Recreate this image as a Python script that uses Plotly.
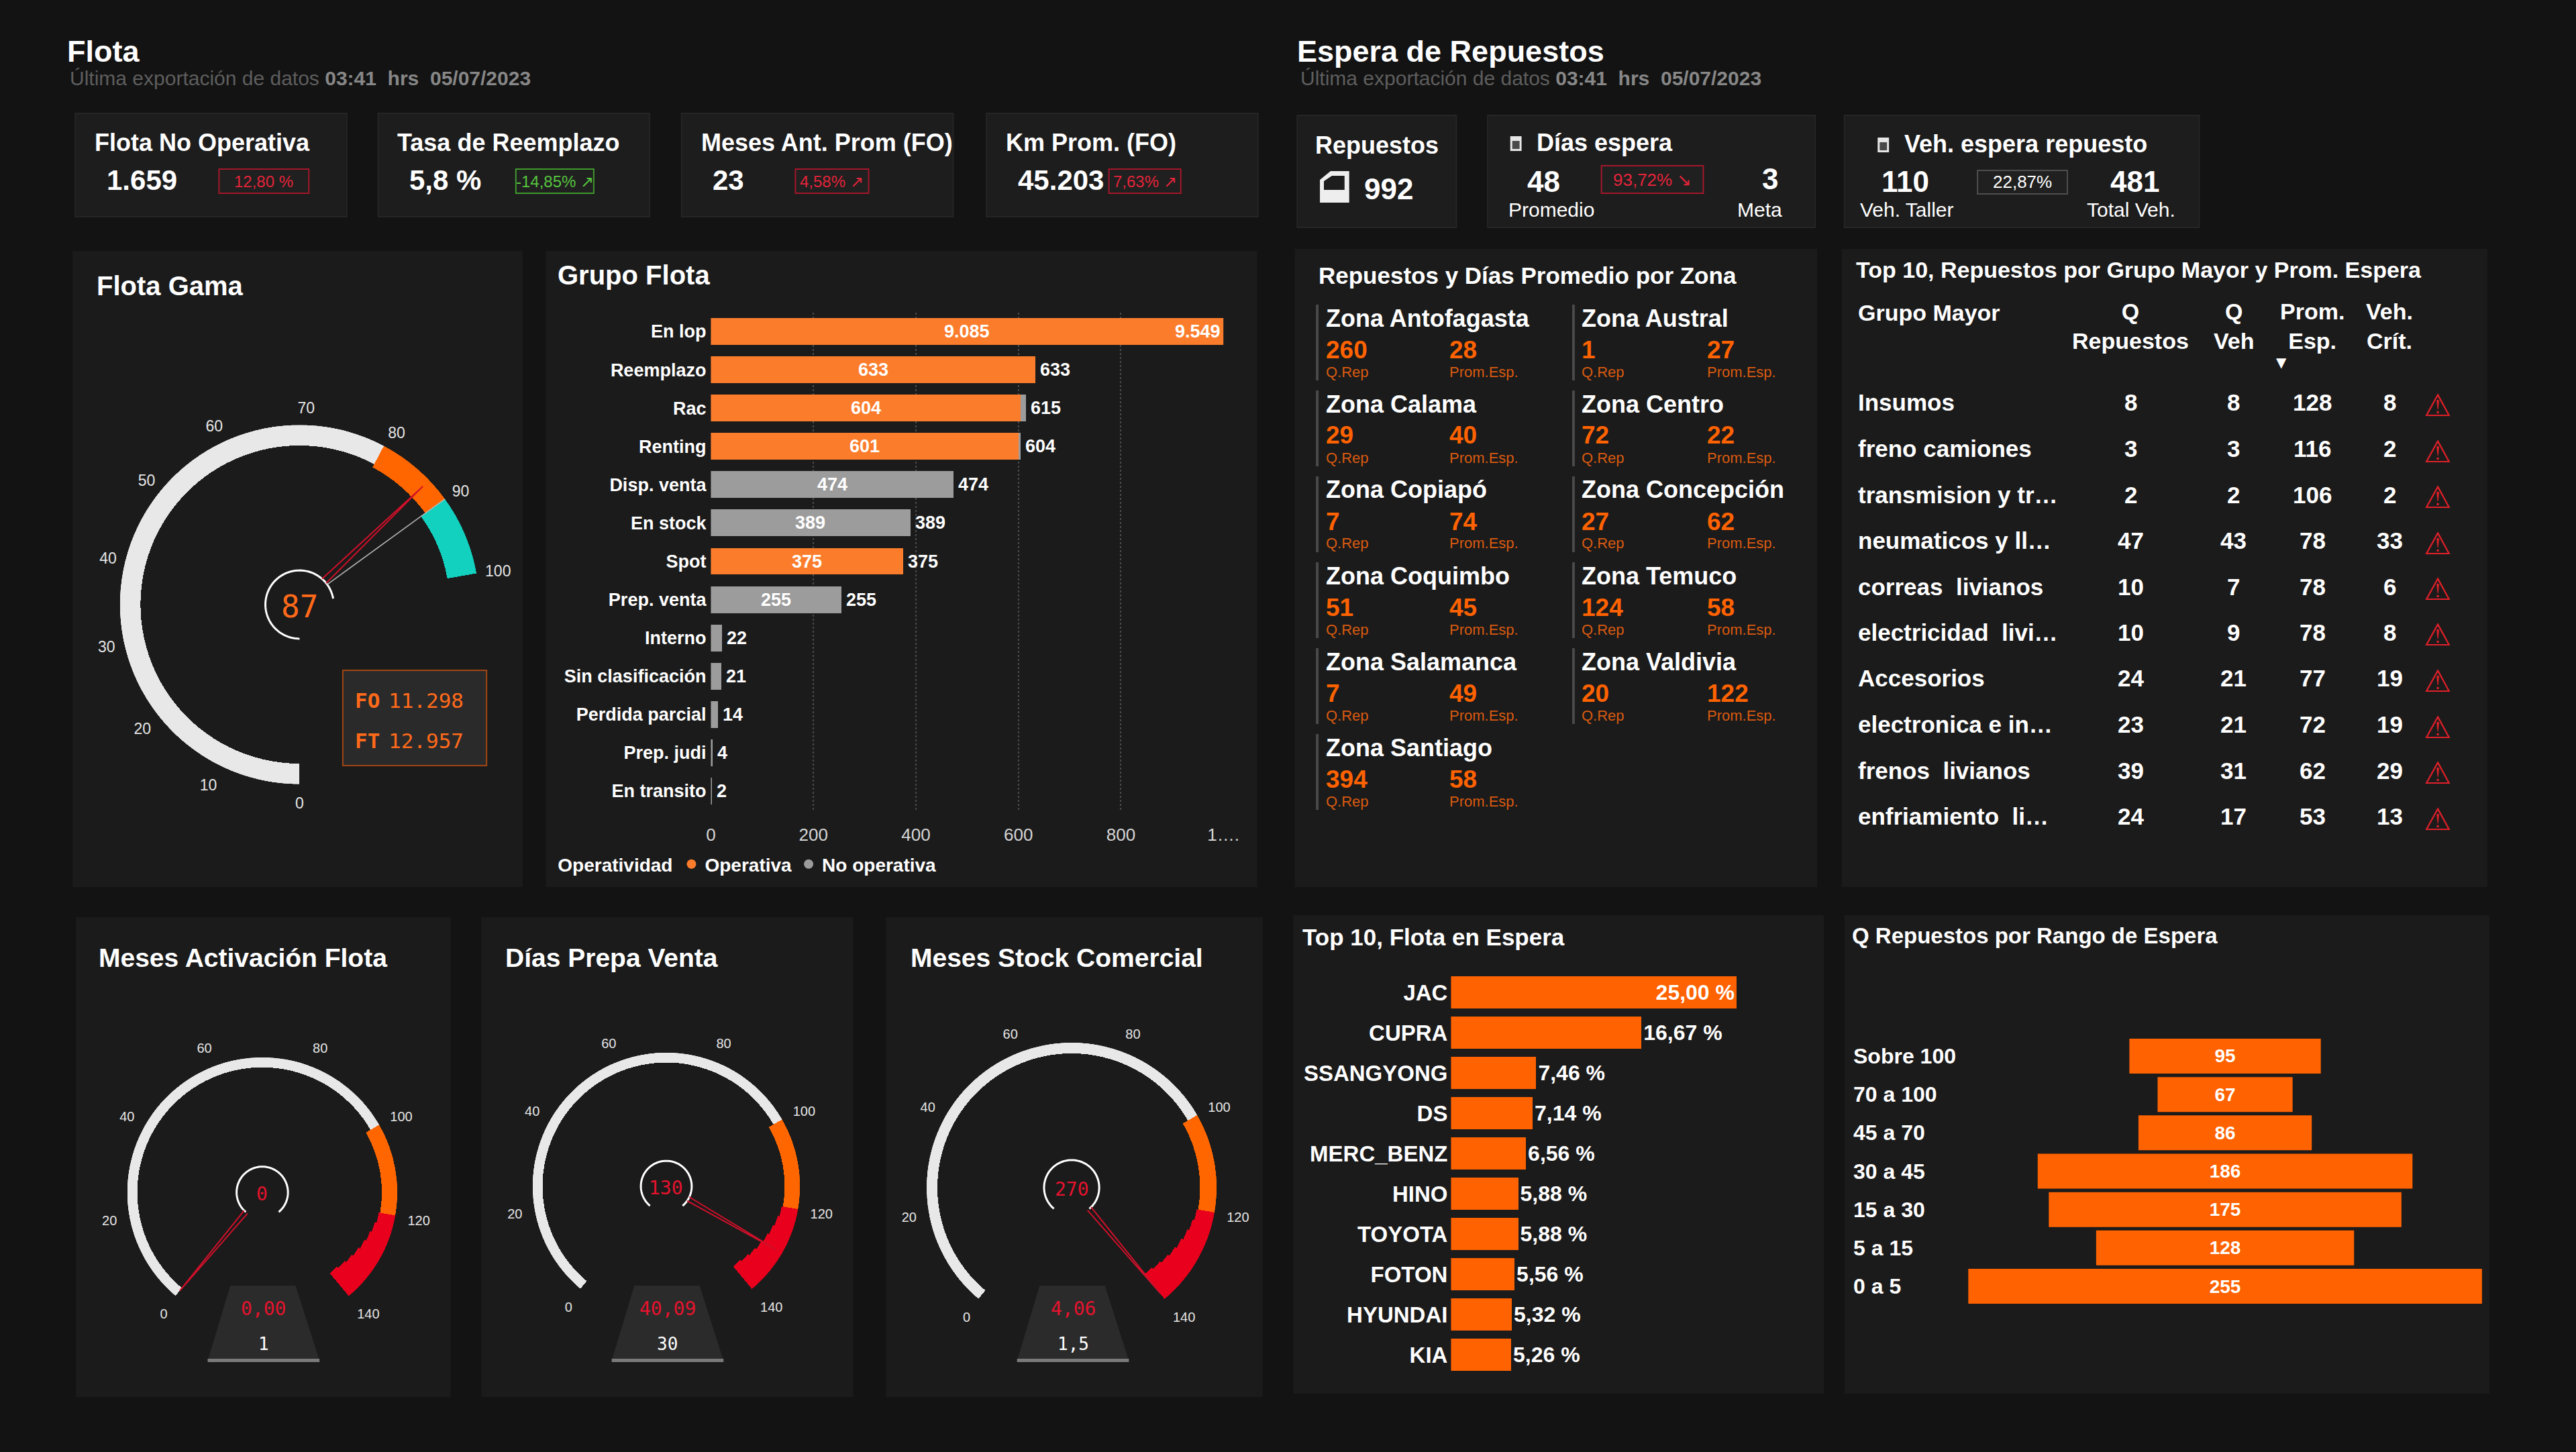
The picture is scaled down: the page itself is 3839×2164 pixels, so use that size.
import numpy as np
import plotly.graph_objects as go

W, H = 3839, 2164
FONT = "Liberation Sans, Arial, sans-serif"
DIGI = "DejaVu Sans Mono, monospace"
BG = "#131313"
PANEL = "#1b1b1b"
CARD = "#1d1d1d"
ORANGE = "#ff6200"
ORANGE_BAR = "#fb7d2c"
GRAY_BAR = "#9c9c9c"
RED = "#e5132d"

# ---------------- datos ----------------
kpi_titles = ["Flota No Operativa", "Tasa de Reemplazo", "Meses Ant. Prom (FO)", "Km Prom. (FO)"]
kpi_values = ["1.659", "5,8 %", "23", "45.203"]
kpi_badges = ["12,80 %", "-14,85% ↗", "4,58% ↗", "7,63% ↗"]
kpi_badge_good = [False, True, False, False]

repuestos_total = 992
dias_promedio = 48
dias_meta = 3
dias_var = "93,72% ↘"
veh_taller = 110
veh_total = 481
veh_pct = "22,87%"

gama_value = 87
gama_target = 90
gama_fo = "11.298"
gama_ft = "12.957"
gama_edges = [0, 80, 90, 100]
gama_ticks = [0, 10, 20, 30, 40, 50, 60, 70, 80, 90, 100]

grupos = ["En lop", "Reemplazo", "Rac", "Renting", "Disp. venta", "En stock", "Spot",
          "Prep. venta", "Interno", "Sin clasificación", "Perdida parcial", "Prep. judi", "En transito"]
operativa = [9085, 633, 604, 601, 0, 0, 375, 0, 0, 0, 0, 0, 0]
no_operativa = [464, 0, 11, 3, 474, 389, 0, 255, 22, 21, 14, 4, 2]

zonas = ["Zona Antofagasta", "Zona Austral", "Zona Calama", "Zona Centro", "Zona Copiapó",
         "Zona Concepción", "Zona Coquimbo", "Zona Temuco", "Zona Salamanca", "Zona Valdivia",
         "Zona Santiago"]
zona_q_rep = [260, 1, 29, 72, 7, 27, 51, 124, 7, 20, 394]
zona_prom = [28, 27, 40, 22, 74, 62, 45, 58, 49, 122, 58]

grupo_mayor = ["Insumos", "freno camiones", "transmision y tr…", "neumaticos y ll…", "correas  livianos",
               "electricidad  livi…", "Accesorios", "electronica e in…", "frenos  livianos",
               "enfriamiento  li…"]
q_repuestos = [8, 3, 2, 47, 10, 10, 24, 23, 39, 24]
q_veh = [8, 3, 2, 43, 7, 9, 21, 21, 31, 17]
prom_esp = [128, 116, 106, 78, 78, 78, 77, 72, 62, 53]
veh_crit = [8, 2, 2, 33, 6, 8, 19, 19, 29, 13]

gauge_titles = ["Meses Activación Flota", "Días Prepa Venta", "Meses Stock Comercial"]
gauge_pct = [0, 130, 270]
gauge_actual = ["0,00", "40,09", "4,06"]
gauge_meta = ["1", "30", "1,5"]
gauge_edges = [0, 100, 120, 140]
gauge_ticks = [0, 20, 40, 60, 80, 100, 120, 140]

marcas = ["JAC", "CUPRA", "SSANGYONG", "DS", "MERC_BENZ", "HINO", "TOYOTA", "FOTON", "HYUNDAI", "KIA"]
marca_pct = [25.00, 16.67, 7.46, 7.14, 6.56, 5.88, 5.88, 5.56, 5.32, 5.26]

rangos = ["Sobre 100", "70 a 100", "45 a 70", "30 a 45", "15 a 30", "5 a 15", "0 a 5"]
rango_q = [95, 67, 86, 186, 175, 128, 255]


def px(x):
    return x / W


def py(y):
    return 1 - y / H


def fmt(v):
    return f"{v:,}".replace(",", ".")


shapes, annotations = [], []


def rect(x0, y0, x1, y1, fill, line=None, lw=0):
    shapes.append(dict(type="rect", xref="paper", yref="paper", x0=px(x0), x1=px(x1),
                       y0=py(y1), y1=py(y0), fillcolor=fill,
                       line=dict(color=line or fill, width=lw), layer="below"))


def poly(points, fill, line=None, lw=0):
    path = "M " + " L ".join(f"{px(x):.5f},{py(y):.5f}" for x, y in points) + " Z"
    shapes.append(dict(type="path", xref="paper", yref="paper", path=path, fillcolor=fill,
                       line=dict(color=line or fill, width=lw), layer="below"))


def label(x, y, s, size, color="white", anchor="left", family=FONT):
    annotations.append(dict(xref="paper", yref="paper", x=px(x), y=py(y), text=s, showarrow=False,
                            xanchor=anchor, yanchor="middle",
                            font=dict(size=size, color=color, family=family)))


fig = go.Figure()

# ---------------- encabezados ----------------
sub = ("<span style='color:#5e5e5e'>Última exportación de datos </span>"
       "<b><span style='color:#878787'>03:41  hrs  05/07/2023</span></b>")
label(92, 77, "<b>Flota</b>", 45)
label(96, 117, sub, 30)
label(1940, 77, "<b>Espera de Repuestos</b>", 45)
label(1945, 117, sub, 30)

# KPIs flota
card_x = [106, 561, 1017, 1475]
badge_x = [(322, 457), (768, 885), (1188, 1298), (1659, 1767)]
for i in range(4):
    x0 = card_x[i]
    rect(x0, 169, x0 + 408, 323, CARD, "#252525", 2)
    label(x0 + 27, 213, f"<b>{kpi_titles[i]}</b>", 36)
    label(x0 + 45, 268, f"<b>{kpi_values[i]}</b>", 42)
    good = kpi_badge_good[i]
    bcol = "#3f9a2c" if good else "#a3172a"
    tcol = "#56c63f" if good else "#e3243a"
    rect(badge_x[i][0], 252, badge_x[i][1], 288, "#202020", bcol, 2)
    label((badge_x[i][0] + badge_x[i][1]) / 2, 270, kpi_badges[i], 24, tcol, "center")

# KPIs espera
rect(1942, 172, 2181, 339, CARD, "#252525", 2)
label(1967, 217, "<b>Repuestos</b>", 36)
poly([(1976, 302), (1976, 268), (1992, 255), (2020, 255), (2020, 302)], "#eeeeee")
poly([(1982, 283), (1982, 270), (1994, 262), (2013, 262), (2013, 283)], CARD)
label(2040, 282, f"<b>{repuestos_total}</b>", 44)

rect(2228, 172, 2720, 339, CARD, "#252525", 2)
rect(2262, 203, 2279, 225, "#e6e6e6")
rect(2265, 210, 2276, 222, "#4a4a4a")
label(2300, 213, "<b>Días espera</b>", 36)
label(2312, 270, f"<b>{dias_promedio}</b>", 44, anchor="center")
rect(2399, 247, 2552, 288, "#202020", "#a3172a", 2)
label(2475, 268, dias_var, 26, "#e3243a", "center")
label(2652, 266, f"<b>{dias_meta}</b>", 44, anchor="center")
label(2257, 312, "Promedio", 30)
label(2637, 312, "Meta", 30, anchor="center")

rect(2764, 172, 3297, 339, CARD, "#252525", 2)
rect(2814, 205, 2831, 227, "#e6e6e6")
rect(2817, 212, 2828, 224, "#4a4a4a")
label(2852, 215, "<b>Veh. espera repuesto</b>", 36)
label(2856, 270, f"<b>{veh_taller}</b>", 44, anchor="center")
rect(2964, 254, 3099, 289, "#202020", "#4e4e4e", 2)
label(3031, 271, veh_pct, 26, "white", "center")
label(3200, 270, f"<b>{veh_total}</b>", 44, anchor="center")
label(2858, 312, "Veh. Taller", 30, anchor="center")
label(3195, 312, "Total Veh.", 30, anchor="center")

# ---------------- paneles ----------------
panels = [(102, 374, 778, 1322), (813, 374, 1882, 1322), (1938, 371, 2723, 1322), (2760, 371, 3730, 1322),
          (107, 1367, 670, 2082), (716, 1367, 1275, 2082), (1324, 1367, 1890, 2082),
          (1936, 1364, 2733, 2077), (2764, 1364, 3733, 2077)]
for p in panels:
    rect(*p, PANEL)

label(136, 426, "<b>Flota Gama</b>", 40)
label(829, 410, "<b>Grupo Flota</b>", 40)
label(1972, 410, "<b>Repuestos y Días Promedio por Zona</b>", 35)
label(2779, 402, "<b>Top 10, Repuestos por Grupo Mayor y Prom. Espera</b>", 34)
label(1948, 1396, "<b>Top 10, Flota en Espera</b>", 35)
label(2773, 1394, "<b>Q Repuestos por Rango de Espera</b>", 33)

# ---------------- gauges ----------------
polars = {}


def gauge(name, cx, cy, R, edges, colors, inner, ticks, deg, rot, value, tsize, tlen,
          target=None, taper=None):
    th, wd, base, col = [], [], [], []
    for k, (a, b) in enumerate(zip(edges[:-1], edges[1:])):
        if taper is not None and k == len(edges) - 2:
            # última banda se ensancha hacia el final
            steps = np.linspace(a, b, 9)
            for j, (s0, s1) in enumerate(zip(steps[:-1], steps[1:])):
                th.append((s0 + s1) / 2 * deg)
                wd.append((s1 - s0) * deg + 0.3)
                base.append(inner[k] + (taper - inner[k]) * j / 7)
                col.append(colors[k])
        else:
            th.append((a + b) / 2 * deg)
            wd.append((b - a) * deg)
            base.append(inner[k])
            col.append(colors[k])
    fig.add_trace(go.Barpolar(theta=th, width=wd, r=[1 - b for b in base], base=base,
                              marker=dict(color=col, line=dict(width=0)), subplot=name,
                              hoverinfo="skip", showlegend=False))
    arc = np.linspace(0, edges[-1] * deg, 90)
    fig.add_trace(go.Scatterpolar(theta=arc, r=[0.19] * len(arc), mode="lines",
                                  line=dict(color="white", width=3), subplot=name,
                                  hoverinfo="skip", showlegend=False))
    if target is not None:
        t = target * deg
        fig.add_trace(go.Scatterpolar(theta=[t, t], r=[0.19, 1.0], mode="lines",
                                      line=dict(color="#b8b8b8", width=1.5), subplot=name,
                                      hoverinfo="skip", showlegend=False))
    v = min(value, edges[-1]) * deg
    fig.add_trace(go.Scatterpolar(theta=[v - 5, v, v + 5], r=[0.19, 0.95, 0.19], mode="lines",
                                  line=dict(color="#d0102a", width=2), subplot=name,
                                  hoverinfo="skip", showlegend=False))
    polars[name] = dict(
        domain=dict(x=[px(cx - R), px(cx + R)], y=[py(cy + R), py(cy - R)]),
        bgcolor="rgba(0,0,0,0)", hole=0,
        radialaxis=dict(visible=False, range=[0, 1], showgrid=False),
        angularaxis=dict(rotation=rot, direction="clockwise", thetaunit="degrees",
                         tickvals=[t * deg for t in ticks], ticktext=[str(t) for t in ticks],
                         showgrid=False, showline=False, ticks="outside", ticklen=tlen,
                         tickcolor="rgba(0,0,0,0)",
                         tickfont=dict(size=tsize, color="#e6e6e6", family=FONT)))


gauge("polar", 443, 901, 270, gama_edges, ["#e8e8e8", "#ff6600", "#12d1bf"], [0.885, 0.865, 0.835],
      gama_ticks, 2.6, 270, gama_value, 23, 8, target=gama_target)
label(443, 904, str(gama_value), 46, "#ff6a1a", "center", DIGI)
rect(508, 999, 724, 1141, "#2a2a2a", "#a04512", 2)
label(524, 1044, "<b>FO</b>", 31, "#ff6a1a", family=DIGI)
label(692, 1044, gama_fo, 31, "#ff6a1a", "right", DIGI)
label(524, 1104, "<b>FT</b>", 31, "#ff6a1a", family=DIGI)
label(692, 1104, gama_ft, 31, "#ff6a1a", "right", DIGI)

g_pos = [(387, 1777, 203), (994, 1768, 201), (1603, 1770, 218)]
g_title_x = [139, 750, 1359]
for i in range(3):
    cx, cy, R = g_pos[i]
    gauge(f"polar{i + 2}", cx, cy, R, gauge_edges, ["#e8e8e8", "#ff6600", "#e8001c"],
          [0.925, 0.885, 0.875], gauge_ticks, 2.0, 230, gauge_pct[i], 20, 14, taper=0.78)
    label(g_title_x[i], 1427, f"<b>{gauge_titles[i]}</b>", 39)
    label(cx, cy + 2, str(gauge_pct[i]), 28, RED, "center", DIGI)
    poly([(cx - 48, 1916), (cx + 50, 1916), (cx + 86, 2028), (cx - 82, 2028)], "#2b2b2b")
    rect(cx - 82, 2025, cx + 86, 2030, "#7a7a7a")
    label(cx + 2, 1950, gauge_actual[i], 28, RED, "center", DIGI)
    label(cx + 2, 2003, gauge_meta[i], 26, "white", "center", DIGI)

# ---------------- Grupo Flota ----------------
XMAX = 1000
fig.add_trace(go.Bar(y=grupos, x=operativa, orientation="h", marker=dict(color=ORANGE_BAR, line=dict(width=0)),
                     width=0.7, xaxis="x", yaxis="y", hoverinfo="skip", showlegend=False))
fig.add_trace(go.Bar(y=grupos, x=no_operativa, orientation="h", marker=dict(color=GRAY_BAR, line=dict(width=0)),
                     width=0.7, xaxis="x", yaxis="y", hoverinfo="skip", showlegend=False))
fig.add_trace(go.Scatter(x=[None], y=[None], mode="markers", name="<b>Operativa</b>",
                         marker=dict(symbol="circle", size=14, color=ORANGE_BAR), xaxis="x", yaxis="y"))
fig.add_trace(go.Scatter(x=[None], y=[None], mode="markers", name="<b>No operativa</b>",
                         marker=dict(symbol="circle", size=14, color=GRAY_BAR), xaxis="x", yaxis="y"))

for g, op, no in zip(grupos, operativa, no_operativa):
    tot = op + no
    if op >= 100:
        annotations.append(dict(x=min(op, XMAX) / 2, y=g, xref="x", yref="y", text=f"<b>{fmt(op)}</b>",
                                showarrow=False, font=dict(size=27, color="white")))
    if no >= 100 and op < XMAX:
        annotations.append(dict(x=op + min(no, XMAX - op) / 2, y=g, xref="x", yref="y", text=f"<b>{fmt(no)}</b>",
                                showarrow=False, font=dict(size=27, color="white")))
    if tot > XMAX:
        annotations.append(dict(x=XMAX, y=g, xref="x", yref="y", text=f"<b>{fmt(tot)}</b>", xanchor="right",
                                xshift=-2, showarrow=False, font=dict(size=27, color="white")))
    else:
        annotations.append(dict(x=tot, y=g, xref="x", yref="y", text=f"<b>{fmt(tot)}</b>", xanchor="left",
                                xshift=5, showarrow=False, font=dict(size=27, color="white")))

# ---------------- Repuestos por zona ----------------
for i, z in enumerate(zonas):
    col, row = i % 2, i // 2
    bx = [1972, 2357][col]
    tx = [1983, 2367][col]
    pxx = [2169, 2556][col]
    dy = row * 128
    rect(bx - 2, 454 + dy, bx + 2, 567 + dy, "#4a4a4a")
    label(tx, 474 + dy, f"<b>{z}</b>", 36)
    label(tx, 521 + dy, f"<b>{zona_q_rep[i]}</b>", 37, ORANGE)
    label(pxx, 521 + dy, f"<b>{zona_prom[i]}</b>", 37, ORANGE)
    label(tx, 554 + dy, "Q.Rep", 22, "#d95a10")
    label(pxx, 554 + dy, "Prom.Esp.", 22, "#d95a10")

# ---------------- Top 10 tabla ----------------
cols_x = [3194, 3349, 3467, 3583]
label(2782, 466, "<b>Grupo Mayor</b>", 34)
for cx, head in zip(cols_x, ["Q<br>Repuestos", "Q<br>Veh", "Prom.<br>Esp.", "Veh.<br>Crít."]):
    label(cx, 486, f"<b>{head}</b>", 34, anchor="center")
label(3421, 540, "▼", 20, anchor="center", family="DejaVu Sans")
for i, g in enumerate(grupo_mayor):
    y = 600 + i * 68.5
    label(2782, y, f"<b>{g}</b>", 35)
    for cx, v in zip(cols_x, [q_repuestos[i], q_veh[i], prom_esp[i], veh_crit[i]]):
        label(cx, y, f"<b>{v}</b>", 35, anchor="center")
    label(3655, y + 4, "⚠", 46, "#e0202a", "center", "DejaVu Sans")

# ---------------- Top 10 flota en espera ----------------
fig.add_trace(go.Bar(y=marcas, x=marca_pct, orientation="h", width=0.8,
                     marker=dict(color=ORANGE, line=dict(width=0)),
                     texttemplate="<b>%{x:.2f} %</b>",
                     textposition=["inside" if v == max(marca_pct) else "outside" for v in marca_pct],
                     insidetextanchor="end", cliponaxis=False,
                     textfont=dict(size=32, color="white", family=FONT),
                     xaxis="x2", yaxis="y2", hoverinfo="skip", showlegend=False))

# ---------------- Q repuestos por rango ----------------
fig.add_trace(go.Funnel(y=rangos, x=rango_q, marker=dict(color=ORANGE, line=dict(width=0)),
                        textinfo="value", textposition="inside", texttemplate="<b>%{value}</b>",
                        textfont=dict(size=28, color="white", family=FONT),
                        connector=dict(visible=False), xaxis="x3", yaxis="y3",
                        hoverinfo="skip", showlegend=False))
for r in rangos:
    annotations.append(dict(x=px(2775), y=r, xref="paper", yref="y3", text=f"<b>{r}</b>", xanchor="left",
                            showarrow=False, font=dict(size=32, color="white")))

half = max(rango_q) / 2

fig.update_layout(
    autosize=True, margin=dict(l=0, r=0, t=0, b=0),
    paper_bgcolor=BG, plot_bgcolor="rgba(0,0,0,0)",
    font=dict(family=FONT, color="white"),
    separators=",.", barmode="stack", funnelgap=0.09,
    shapes=shapes, annotations=annotations,
    showlegend=True,
    legend=dict(title=dict(text="<b>Operatividad</b>", font=dict(size=28, color="white")),
                orientation="h", traceorder="normal", x=px(829), y=py(1288), xanchor="left", yanchor="middle",
                font=dict(size=28, color="white"), bgcolor="rgba(0,0,0,0)", itemwidth=30),
    xaxis=dict(domain=[px(1061), px(1831)], range=[0, XMAX], anchor="y",
               tickvals=[0, 200, 400, 600, 800, 1000], ticktext=["0", "200", "400", "600", "800", "1…."],
               showgrid=True, gridcolor="#4a4a4a", griddash="dot", gridwidth=2, zeroline=False,
               ticks="", tickfont=dict(size=26, color="#d6d6d6"), ticklabelstandoff=18),
    yaxis=dict(domain=[py(1207.5), py(465.5)], autorange="reversed", anchor="x", showgrid=False,
               ticks="", tickfont=dict(size=27, color="white", weight="bold"), ticklabelstandoff=6),
    xaxis2=dict(domain=[px(2173), px(2602)], range=[0, 25], visible=False, anchor="y2"),
    yaxis2=dict(domain=[py(2049), py(1449)], autorange="reversed", anchor="x2", showgrid=False,
                ticks="", tickfont=dict(size=33, color="white", weight="bold"), ticklabelstandoff=4),
    xaxis3=dict(domain=[px(2950), px(3722)], range=[-half, half], visible=False, anchor="y3"),
    yaxis3=dict(domain=[py(1945.6), py(1545.4)], autorange="reversed", anchor="x3",
                showticklabels=False, showgrid=False, ticks=""),
    **polars,
)

page_js = ("var gd=document.getElementById('{plot_id}');"
           "document.documentElement.style.margin='0';document.body.style.margin='0';"
           "document.body.style.overflow='hidden';document.body.style.background='#131313';"
           "gd.style.width='100vw';gd.style.height='100vh';Plotly.Plots.resize(gd);")
fig.write_html("out.html", post_script=page_js, default_width="100vw", default_height="100vh",
               config={"displayModeBar": False, "responsive": True})
